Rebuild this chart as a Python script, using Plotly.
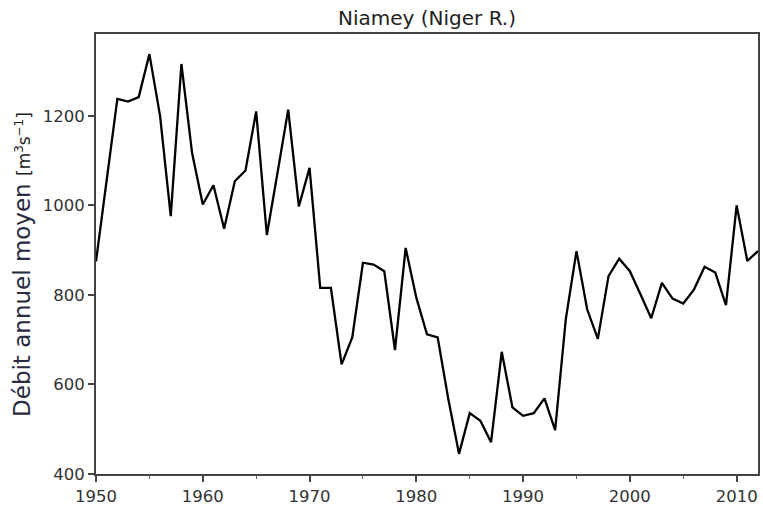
import plotly.graph_objects as go

years = list(range(1950, 2013))
discharge = [875, 1055, 1238, 1232, 1242, 1338, 1200, 976, 1316, 1117,
             1002, 1045, 948, 1054, 1078, 1210, 934, 1073, 1214, 998,
             1084, 816, 816, 645, 705, 872, 868, 853, 677, 905,
             794, 712, 705, 567, 445, 536, 519, 471, 673, 549,
             530, 536, 569, 498, 746, 898, 768, 702, 842, 881,
             853, 801, 748, 827, 792, 781, 812, 863, 850, 777,
             1000, 876, 898]
x_ticks = [1950, 1960, 1970, 1980, 1990, 2000, 2010]
y_ticks = [400, 600, 800, 1000, 1200]

fig = go.Figure()
fig.add_trace(go.Scatter(x=years, y=discharge, mode="lines",
                         line=dict(color="black", width=2.3)))

fig.update_layout(
    width=763, height=509,
    margin=dict(l=96, r=3, t=34, b=34),
    paper_bgcolor="white", plot_bgcolor="white",
    font=dict(family="DejaVu Sans", color="#333333", size=16),
    showlegend=False,
    title=dict(text="Niamey (Niger R.)", x=0.5, xref="paper", xanchor="center",
               y=1 - 18 / 509, yanchor="middle",
               font=dict(size=20, color="#222222")),
    xaxis=dict(range=[1950, 2012], tickvals=x_ticks, ticks="outside", ticklen=6,
               tickwidth=1.5, tickcolor="#444", showgrid=False, zeroline=False,
               showline=True, linecolor="#444", linewidth=1.8, mirror=True,
               minor=dict(dtick=5, tick0=1950, ticks="outside", ticklen=3,
                          tickwidth=1.2, tickcolor="#666"),
               tickfont=dict(size=16.5)),
    yaxis=dict(range=[400, 1383], tickvals=y_ticks, ticks="outside", ticklen=6,
               tickwidth=1.5, tickcolor="#444", showgrid=False, zeroline=False,
               showline=True, linecolor="#444", linewidth=1.8, mirror=True,
               tickfont=dict(size=16.5)),
    annotations=[dict(
        text="Débit annuel moyen <span style='font-size:17px;color:#222222'>[m<sup>3</sup>s<sup>−1</sup>]</span>",
        xref="paper", yref="paper", x=-0.112, y=0.477, xanchor="center", yanchor="middle",
        textangle=-90, showarrow=False,
        font=dict(size=23, color="#2a2a40", family="DejaVu Sans"))],
)

fig.write_html("out.html", config={"displayModeBar": False},
               post_script="document.body.style.margin='0';document.body.style.overflow='hidden';")
